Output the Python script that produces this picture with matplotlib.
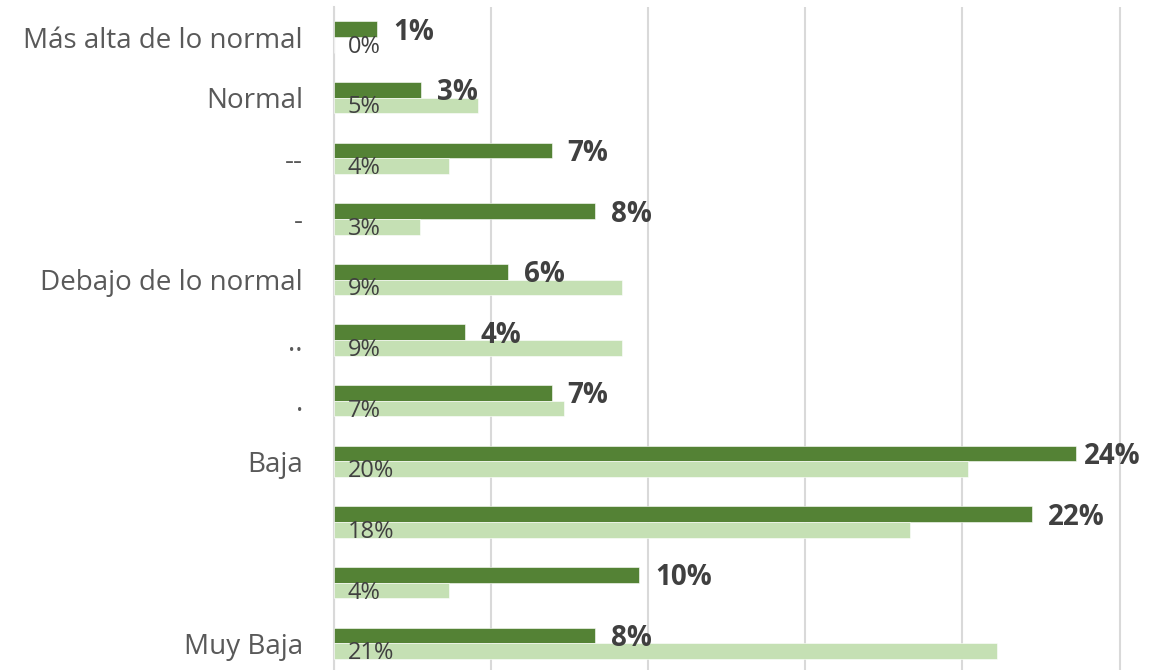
import matplotlib
matplotlib.use("Agg")
import matplotlib.pyplot as plt

# ---- data ----
categories = ["Más alta de lo normal", "Normal", "--", "-", "Debajo de lo normal",
              "..", ".", "Baja", "", "", "Muy Baja"]
series_dark = [1.39, 2.78, 6.94, 8.33, 5.56, 4.17, 6.94, 23.61, 22.22, 9.72, 8.33]
series_light = [0.0, 4.59, 3.67, 2.75, 9.17, 9.17, 7.34, 20.18, 18.35, 3.67, 21.10]

DARK = "#548235"
LIGHT = "#C5E0B4"
GRID = "#D9D9D9"
TXT = "#595959"
VAL = "#404040"
FONT = "Open Sans"

W, H = 1163, 670
fig = plt.figure(figsize=(W / 100, H / 100), dpi=100)

left_px = 333.5
top_px = 6.7
bottom_px = 673.6
px_per_unit = 31.44
ax = fig.add_axes([left_px / W, 1 - bottom_px / H, 1 - left_px / W, (bottom_px - top_px) / H])

n = len(categories)
ypos = list(range(n))
bh = 0.259
ax.barh([y - bh / 2 for y in ypos], series_dark, height=bh, color=DARK,
        edgecolor="white", linewidth=0.4, zorder=3)
ax.barh([y + bh / 2 for y in ypos], series_light, height=bh, color=LIGHT,
        edgecolor="white", linewidth=0.4, zorder=3)

ax.set_xlim(0, (W - left_px) / px_per_unit)
ax.set_ylim(n - 0.5, -0.5)
ax.set_xticks([0, 5, 10, 15, 20, 25])
ax.tick_params(axis="x", length=0, labelbottom=False)
ax.grid(axis="x", color=GRID, linewidth=1.5, zorder=0)
ax.set_yticks(ypos)
ax.set_yticklabels(categories, fontfamily=FONT, fontsize=20, color=TXT)
ax.tick_params(axis="y", length=0, pad=22)
for s in ["top", "right", "bottom"]:
    ax.spines[s].set_visible(False)
ax.spines["left"].set_color(GRID)
ax.spines["left"].set_linewidth(1.5)

# light labels at inside base
for y, v in zip(ypos, series_light):
    ax.annotate(f"{v:.0f}%", xy=(0, y + bh / 2), xytext=(14, -2), textcoords="offset pixels",
                ha="left", va="center", fontfamily=FONT, fontsize=17, color=VAL, zorder=4)

# dark labels outside end
dark_texts = []
for y, v in zip(ypos, series_dark):
    t = ax.annotate(f"{v:.0f}%", xy=(v, y - bh / 2), xytext=(16, -3), textcoords="offset pixels",
                    ha="left", va="center", fontfamily=FONT, fontsize=20, fontweight="bold",
                    color=VAL, zorder=4, annotation_clip=False)
    dark_texts.append(t)

# keep labels inside the plot area (right limit)
fig.canvas.draw()
right_limit = 1141
r = fig.canvas.get_renderer()
for t in dark_texts:
    bb = t.get_window_extent(r)
    if bb.x1 > right_limit:
        shift = bb.x1 - right_limit
        ox, oy = t.xyann
        t.xyann = (ox - shift, oy)

fig.savefig("out.png", dpi=100)
